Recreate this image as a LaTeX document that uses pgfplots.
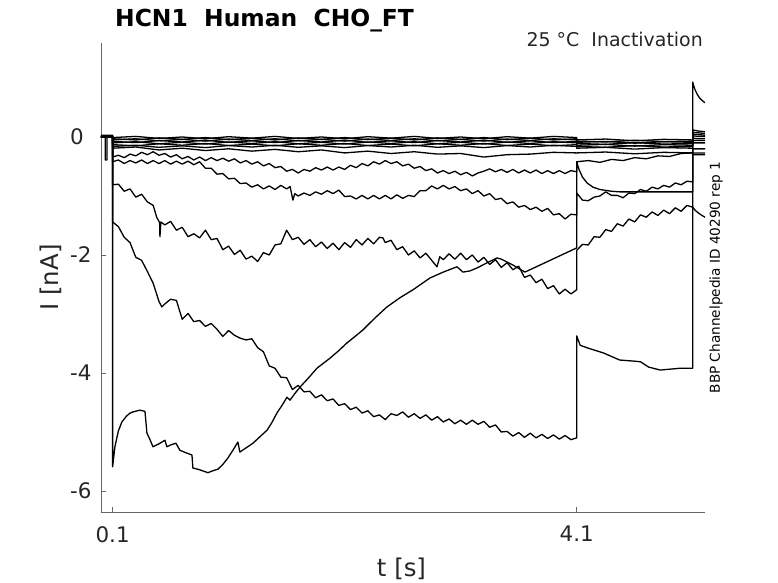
\documentclass[border=0pt]{standalone}
\usepackage{pgfplots}
\pgfplotsset{compat=1.18}
\usepackage{fontspec}
\setmainfont{DejaVu Sans}
\definecolor{axisgray}{gray}{0.4}
\definecolor{labelgray}{gray}{0.15}
\tikzset{tr/.style={draw=black, line width=1.3bp, line join=round, mark=none}}
\begin{document}
\begin{tikzpicture}
\begin{axis}[
 scale only axis, width=604bp, height=469bp,
 xmin=0, xmax=5.206, ymin=-6.356, ymax=1.593,
 axis x line*=bottom, axis y line*=left,
 axis line style={draw=axisgray, line width=0.6bp, -},
 xtick={0.1,4.1}, xticklabels={0.1,4.1},
 ytick={-6,-4,-2,0}, yticklabels={-6,-4,-2,0},
 tick align=inside, major tick length=5bp,
 tick style={draw=axisgray, line width=0.6bp},
 ticklabel style={font=\fontsize{21.5}{26}\selectfont, text=labelgray},
 xticklabel style={anchor=north, inner sep=0pt, yshift=-14bp},
 yticklabel style={anchor=west, inner sep=0pt, xshift=-31bp},
 xlabel={t [s]}, ylabel={I [nA]},
 label style={font=\fontsize{24.5}{29}\selectfont, text=labelgray},
 xlabel style={at={(axis description cs:0.4975,-0.1215)}, anchor=center, inner sep=0pt},
 ylabel style={at={(axis description cs:-0.0828,0.5)}, anchor=center, inner sep=0pt},
 clip mode=individual,
]
% bundle traces near zero
\addplot[tr] coordinates {(0,0.03)(0.1,0.03)(0.1,-0.01)(0.3,0.01)(0.5,-0.025)(0.7,0.0)(0.9,-0.03)(1.1,0.005)(1.3,-0.02)(1.5,0.01)(1.7,-0.025)(1.9,0.0)(2.1,-0.03)(2.3,0.005)(2.5,-0.02)(2.7,0.01)(2.9,-0.025)(3.1,0.0)(3.3,-0.03)(3.5,0.005)(3.7,-0.02)(3.9,0.01)(4.1,-0.01)(4.1,-0.05)(4.35,-0.035)(4.6,-0.065)(4.85,-0.04)(5.1,-0.05)(5.1,0.12)(5.15,0.10)(5.206,0.09)};
\addplot[tr] coordinates {(0,0.02)(0.1,0.02)(0.1,-0.03)(0.3,-0.05)(0.5,-0.015)(0.7,-0.04)(0.9,-0.01)(1.1,-0.045)(1.3,-0.02)(1.5,-0.05)(1.7,-0.015)(1.9,-0.04)(2.1,-0.01)(2.3,-0.045)(2.5,-0.02)(2.7,-0.05)(2.9,-0.015)(3.1,-0.04)(3.3,-0.01)(3.5,-0.045)(3.7,-0.02)(3.9,-0.05)(4.1,-0.03)(4.1,-0.07)(4.35,-0.085)(4.6,-0.055)(4.85,-0.08)(5.1,-0.07)(5.1,0.08)(5.15,0.07)(5.206,0.06)};
\addplot[tr] coordinates {(0,0)(0.036,0)(0.036,-0.39)(0.052,-0.39)(0.052,0)(0.1,0)(0.1,-0.05)(0.3,-0.03)(0.5,-0.065)(0.7,-0.04)(0.9,-0.07)(1.1,-0.035)(1.3,-0.06)(1.5,-0.03)(1.7,-0.065)(1.9,-0.04)(2.1,-0.07)(2.3,-0.035)(2.5,-0.06)(2.7,-0.03)(2.9,-0.065)(3.1,-0.04)(3.3,-0.07)(3.5,-0.035)(3.7,-0.06)(3.9,-0.03)(4.1,-0.05)(4.1,-0.09)(4.35,-0.075)(4.6,-0.105)(4.85,-0.08)(5.1,-0.09)(5.1,0.05)(5.15,0.04)(5.206,0.03)};
\addplot[tr] coordinates {(0,0)(0.1,0)(0.1,-0.075)(0.3,-0.095)(0.5,-0.06)(0.7,-0.085)(0.9,-0.055)(1.1,-0.09)(1.3,-0.065)(1.5,-0.095)(1.7,-0.06)(1.9,-0.085)(2.1,-0.055)(2.3,-0.09)(2.5,-0.065)(2.7,-0.095)(2.9,-0.06)(3.1,-0.085)(3.3,-0.055)(3.5,-0.09)(3.7,-0.065)(3.9,-0.095)(4.1,-0.075)(4.1,-0.11)(4.35,-0.125)(4.6,-0.095)(4.85,-0.12)(5.1,-0.11)(5.1,0.02)(5.15,0.01)(5.206,0.01)};
\addplot[tr] coordinates {(0,0)(0.1,0)(0.1,-0.10)(0.3,-0.08)(0.5,-0.115)(0.7,-0.09)(0.9,-0.12)(1.1,-0.085)(1.3,-0.11)(1.5,-0.08)(1.7,-0.115)(1.9,-0.09)(2.1,-0.12)(2.3,-0.085)(2.5,-0.11)(2.7,-0.08)(2.9,-0.115)(3.1,-0.09)(3.3,-0.12)(3.5,-0.085)(3.7,-0.11)(3.9,-0.08)(4.1,-0.10)(4.1,-0.14)(4.35,-0.125)(4.6,-0.155)(4.85,-0.13)(5.1,-0.14)(5.1,-0.02)(5.15,-0.03)(5.206,-0.03)};
\addplot[tr] coordinates {(0,0)(0.1,0)(0.1,-0.13)(0.3,-0.15)(0.5,-0.115)(0.7,-0.14)(0.9,-0.11)(1.1,-0.145)(1.3,-0.12)(1.5,-0.15)(1.7,-0.115)(1.9,-0.14)(2.1,-0.11)(2.3,-0.145)(2.5,-0.12)(2.7,-0.15)(2.9,-0.115)(3.1,-0.14)(3.3,-0.11)(3.5,-0.145)(3.7,-0.12)(3.9,-0.15)(4.1,-0.13)(4.1,-0.16)(4.35,-0.175)(4.6,-0.145)(4.85,-0.17)(5.1,-0.16)(5.1,-0.06)(5.206,-0.06)};
\addplot[tr] coordinates {(0,0)(0.1,0)(0.1,-0.16)(0.3,-0.14)(0.5,-0.175)(0.7,-0.15)(0.9,-0.18)(1.1,-0.145)(1.3,-0.17)(1.5,-0.14)(1.7,-0.175)(1.9,-0.15)(2.1,-0.18)(2.3,-0.145)(2.5,-0.17)(2.7,-0.14)(2.9,-0.175)(3.1,-0.15)(3.3,-0.18)(3.5,-0.145)(3.7,-0.17)(3.9,-0.14)(4.1,-0.16)(4.1,-0.19)(4.35,-0.175)(4.6,-0.205)(4.85,-0.18)(5.1,-0.19)(5.1,-0.10)(5.206,-0.10)};
\addplot[tr] coordinates {(0,0)(0.1,0)(0.1,-0.19)(0.3,-0.17)(0.5,-0.22)(0.7,-0.19)(0.9,-0.23)(1.1,-0.20)(1.3,-0.24)(1.5,-0.21)(1.7,-0.25)(1.9,-0.22)(2.1,-0.27)(2.3,-0.24)(2.5,-0.28)(2.7,-0.25)(2.9,-0.29)(3.1,-0.28)(3.3,-0.34)(3.5,-0.30)(3.7,-0.29)(3.9,-0.26)(4.1,-0.27)(4.1,-0.27)(4.35,-0.255)(4.6,-0.285)(4.85,-0.26)(5.1,-0.27)(5.1,-0.27)(5.206,-0.27)};
% trace 1
\addplot[tr] coordinates {(0,0)(0.1,0)(0.1,-0.34)(0.15,-0.31)(0.20,-0.35)(0.25,-0.29)(0.30,-0.32)(0.35,-0.26)(0.40,-0.30)(0.45,-0.25)(0.50,-0.31)(0.55,-0.28)(0.60,-0.34)(0.65,-0.30)(0.70,-0.37)(0.75,-0.33)(0.80,-0.39)(0.85,-0.34)(0.90,-0.40)(0.95,-0.35)(1.00,-0.40)(1.05,-0.36)(1.10,-0.41)(1.15,-0.37)(1.20,-0.44)(1.25,-0.40)(1.30,-0.46)(1.35,-0.42)(1.40,-0.49)(1.45,-0.45)(1.50,-0.52)(1.55,-0.50)(1.60,-0.58)(1.65,-0.55)(1.70,-0.61)(1.75,-0.55)(1.80,-0.58)(1.85,-0.52)(1.90,-0.56)(1.95,-0.51)(2.00,-0.56)(2.05,-0.51)(2.10,-0.55)(2.15,-0.48)(2.20,-0.52)(2.25,-0.45)(2.30,-0.49)(2.35,-0.42)(2.40,-0.46)(2.45,-0.40)(2.50,-0.45)(2.55,-0.42)(2.60,-0.49)(2.65,-0.46)(2.70,-0.53)(2.75,-0.50)(2.80,-0.57)(2.85,-0.54)(2.90,-0.61)(2.95,-0.57)(3.00,-0.62)(3.05,-0.58)(3.10,-0.64)(3.15,-0.60)(3.20,-0.66)(3.25,-0.61)(3.30,-0.58)(3.35,-0.54)(3.40,-0.59)(3.45,-0.55)(3.50,-0.60)(3.55,-0.55)(3.60,-0.61)(3.65,-0.56)(3.70,-0.61)(3.75,-0.56)(3.80,-0.62)(3.85,-0.57)(3.90,-0.62)(3.95,-0.57)(4.00,-0.62)(4.05,-0.57)(4.10,-0.59)(4.10,-0.42)(4.2,-0.40)(4.3,-0.43)(4.4,-0.38)(4.5,-0.40)(4.6,-0.35)(4.7,-0.37)(4.8,-0.32)(4.9,-0.33)(5.0,-0.28)(5.1,-0.27)(5.1,-0.20)(5.206,-0.20)};
% trace 2
\addplot[tr] coordinates {(0,0)(0.1,0)(0.10,-0.42)(0.15,-0.39)(0.20,-0.45)(0.25,-0.40)(0.30,-0.44)(0.35,-0.39)(0.40,-0.45)(0.45,-0.40)(0.50,-0.45)(0.55,-0.40)(0.60,-0.46)(0.65,-0.41)(0.70,-0.46)(0.75,-0.41)(0.80,-0.47)(0.85,-0.42)(0.90,-0.53)(0.95,-0.53)(1.00,-0.63)(1.05,-0.62)(1.10,-0.71)(1.15,-0.70)(1.20,-0.79)(1.25,-0.78)(1.30,-0.85)(1.35,-0.81)(1.40,-0.88)(1.45,-0.83)(1.50,-0.89)(1.55,-0.82)(1.60,-0.88)(1.63,-0.84)(1.654,-1.07)(1.67,-0.96)(1.70,-1.00)(1.75,-0.95)(1.80,-0.99)(1.85,-0.93)(1.90,-0.97)(1.95,-0.91)(2.00,-0.96)(2.05,-0.90)(2.10,-1.01)(2.15,-1.00)(2.20,-1.05)(2.25,-0.99)(2.30,-1.05)(2.35,-0.99)(2.40,-1.05)(2.45,-0.99)(2.50,-1.05)(2.55,-0.98)(2.60,-1.04)(2.65,-0.99)(2.70,-1.01)(2.75,-0.91)(2.80,-0.91)(2.85,-0.83)(2.90,-0.88)(2.95,-0.82)(3.00,-0.88)(3.05,-0.84)(3.10,-0.91)(3.15,-0.88)(3.20,-0.96)(3.25,-0.91)(3.30,-1.00)(3.35,-0.96)(3.40,-1.06)(3.45,-1.04)(3.50,-1.13)(3.55,-1.10)(3.60,-1.19)(3.65,-1.16)(3.70,-1.23)(3.75,-1.19)(3.80,-1.26)(3.85,-1.21)(3.90,-1.32)(3.95,-1.30)(4.00,-1.39)(4.05,-1.31)(4.10,-1.32)(4.10,-0.95)(4.15,-1.07)(4.20,-1.08)(4.25,-1.02)(4.30,-1.00)(4.35,-0.93)(4.40,-0.99)(4.45,-0.99)(4.50,-1.03)(4.55,-0.95)(4.60,-0.96)(4.65,-0.89)(4.70,-0.92)(4.75,-0.85)(4.80,-0.88)(4.85,-0.82)(4.90,-0.85)(4.95,-0.78)(5.00,-0.81)(5.05,-0.75)(5.10,-0.76)(5.10,-0.30)(5.206,-0.30)};
% trace 3
\addplot[tr] coordinates {(0,0)(0.1,0)(0.10,-0.81)(0.15,-0.80)(0.20,-0.92)(0.25,-0.88)(0.30,-1.02)(0.35,-0.97)(0.40,-1.10)(0.45,-1.16)(0.48,-1.36)(0.505,-1.45)(0.508,-1.69)(0.516,-1.44)(0.55,-1.49)(0.60,-1.43)(0.65,-1.58)(0.70,-1.53)(0.75,-1.69)(0.80,-1.64)(0.85,-1.71)(0.90,-1.58)(0.95,-1.74)(1.00,-1.72)(1.05,-1.91)(1.10,-1.85)(1.15,-1.99)(1.20,-1.92)(1.25,-2.07)(1.30,-2.02)(1.35,-2.11)(1.40,-1.96)(1.45,-2.00)(1.50,-1.83)(1.55,-1.81)(1.60,-1.58)(1.65,-1.74)(1.70,-1.70)(1.75,-1.82)(1.80,-1.74)(1.85,-1.86)(1.90,-1.78)(1.95,-1.89)(2.00,-1.80)(2.05,-1.91)(2.10,-1.79)(2.15,-1.87)(2.20,-1.74)(2.25,-1.83)(2.30,-1.72)(2.35,-1.81)(2.40,-1.70)(2.43,-1.71)(2.45,-1.79)(2.50,-1.75)(2.55,-1.91)(2.60,-1.86)(2.65,-2.00)(2.70,-1.93)(2.75,-2.05)(2.80,-1.97)(2.85,-2.09)(2.896,-2.20)(2.92,-2.03)(2.95,-2.08)(3.00,-1.98)(3.05,-2.07)(3.10,-1.97)(3.15,-2.08)(3.20,-2.00)(3.25,-2.12)(3.30,-2.04)(3.35,-2.16)(3.40,-2.08)(3.45,-2.21)(3.50,-2.13)(3.55,-2.25)(3.60,-2.19)(3.65,-2.38)(3.70,-2.34)(3.75,-2.47)(3.80,-2.41)(3.85,-2.57)(3.90,-2.52)(3.95,-2.66)(4.00,-2.58)(4.05,-2.66)(4.10,-2.59)(4.10,-1.92)(4.15,-1.82)(4.20,-1.83)(4.25,-1.69)(4.30,-1.70)(4.35,-1.57)(4.40,-1.60)(4.45,-1.47)(4.50,-1.51)(4.55,-1.39)(4.60,-1.44)(4.65,-1.32)(4.70,-1.36)(4.75,-1.27)(4.80,-1.33)(4.85,-1.24)(4.90,-1.30)(4.95,-1.20)(5.00,-1.26)(5.05,-1.16)(5.10,-1.19)(5.12,-1.24)(5.15,-1.29)(5.18,-1.33)(5.206,-1.36)};
% trace 4
\addplot[tr] coordinates {(0,0)(0.1,0)(0.1,-1.44)(0.15,-1.52)(0.20,-1.70)(0.25,-1.79)(0.30,-2.04)(0.35,-2.09)(0.40,-2.28)(0.45,-2.48)(0.50,-2.79)(0.525,-2.88)(0.55,-2.83)(0.60,-2.75)(0.65,-2.77)(0.70,-3.09)(0.75,-2.99)(0.80,-3.13)(0.85,-3.11)(0.90,-3.21)(0.95,-3.16)(1.00,-3.26)(1.05,-3.38)(1.10,-3.28)(1.15,-3.36)(1.20,-3.41)(1.25,-3.44)(1.30,-3.42)(1.35,-3.57)(1.40,-3.64)(1.45,-3.88)(1.50,-3.92)(1.55,-4.07)(1.60,-4.08)(1.65,-4.28)(1.70,-4.21)(1.75,-4.32)(1.80,-4.31)(1.85,-4.42)(1.90,-4.37)(1.95,-4.47)(2.00,-4.44)(2.05,-4.55)(2.10,-4.52)(2.15,-4.62)(2.20,-4.58)(2.25,-4.68)(2.30,-4.64)(2.35,-4.74)(2.40,-4.71)(2.45,-4.79)(2.50,-4.69)(2.55,-4.72)(2.60,-4.66)(2.65,-4.75)(2.70,-4.69)(2.75,-4.77)(2.80,-4.71)(2.85,-4.80)(2.90,-4.74)(2.95,-4.83)(3.00,-4.78)(3.05,-4.86)(3.10,-4.80)(3.15,-4.87)(3.20,-4.80)(3.25,-4.87)(3.30,-4.82)(3.35,-4.92)(3.40,-4.88)(3.45,-5.00)(3.50,-4.99)(3.55,-5.07)(3.60,-5.01)(3.65,-5.09)(3.70,-5.02)(3.75,-5.10)(3.80,-5.04)(3.85,-5.11)(3.90,-5.05)(3.95,-5.12)(4.00,-5.06)(4.05,-5.13)(4.1,-5.10)(4.1,-3.37)(4.13,-3.53)(4.2,-3.58)(4.33,-3.66)(4.47,-3.78)(4.6,-3.80)(4.65,-3.81)(4.72,-3.90)(4.82,-3.95)(4.99,-3.92)(5.1,-3.92)(5.1,0.93)(5.11,0.86)(5.12,0.80)(5.14,0.72)(5.16,0.66)(5.18,0.62)(5.206,0.58)};
% smooth U-shaped trace
\addplot[tr] coordinates {(0,0)(0.1,0)(0.1,-5.59)(0.12,-5.25)(0.15,-4.98)(0.18,-4.83)(0.22,-4.73)(0.25,-4.68)(0.275,-4.66)(0.335,-4.63)(0.379,-4.65)(0.396,-5.02)(0.42,-5.12)(0.448,-5.25)(0.50,-5.20)(0.551,-5.14)(0.568,-5.25)(0.60,-5.22)(0.646,-5.19)(0.680,-5.31)(0.73,-5.35)(0.784,-5.39)(0.792,-5.61)(0.85,-5.64)(0.922,-5.69)(0.96,-5.66)(1.008,-5.63)(1.05,-5.55)(1.094,-5.44)(1.140,-5.30)(1.180,-5.17)(1.197,-5.34)(1.25,-5.27)(1.310,-5.19)(1.37,-5.08)(1.431,-4.97)(1.47,-4.85)(1.516,-4.68)(1.56,-4.55)(1.603,-4.41)(1.629,-4.46)(1.67,-4.35)(1.715,-4.24)(1.79,-4.08)(1.861,-3.92)(1.973,-3.75)(2.05,-3.62)(2.120,-3.49)(2.19,-3.38)(2.258,-3.27)(2.36,-3.07)(2.465,-2.88)(2.58,-2.72)(2.689,-2.59)(2.835,-2.39)(2.95,-2.29)(3.068,-2.20)(3.12,-2.29)(3.18,-2.27)(3.241,-2.22)(3.33,-2.13)(3.413,-2.05)(3.45,-2.07)(3.55,-2.17)(3.654,-2.29)(4.1,-1.88)(4.1,-0.42)(4.12,-0.55)(4.15,-0.68)(4.19,-0.78)(4.24,-0.85)(4.30,-0.89)(4.40,-0.92)(4.47,-0.93)(5.1,-0.93)(5.1,-0.20)(5.206,-0.20)};
% annotations
\node[anchor=base west, inner sep=0pt, font=\fontsize{23.5}{28}\selectfont\bfseries] at (axis description cs:0.0232,1.0362) {HCN1\ \ Human\ \ CHO\_FT};
\node[anchor=base east, inner sep=0pt, font=\fontsize{19}{23}\selectfont, text=labelgray] at (axis description cs:0.9967,0.9915) {25 °C\ \ Inactivation};
\node[anchor=center, rotate=90, inner sep=0pt, font=\fontsize{13.7}{16}\selectfont] at (axis description cs:1.0182,0.5) {BBP Channelpedia ID 40290 rep 1};
\end{axis}
\pgfresetboundingbox
\path[use as bounding box] (-101bp,-71bp) rectangle (677bp,512bp);
\end{tikzpicture}
\end{document}
